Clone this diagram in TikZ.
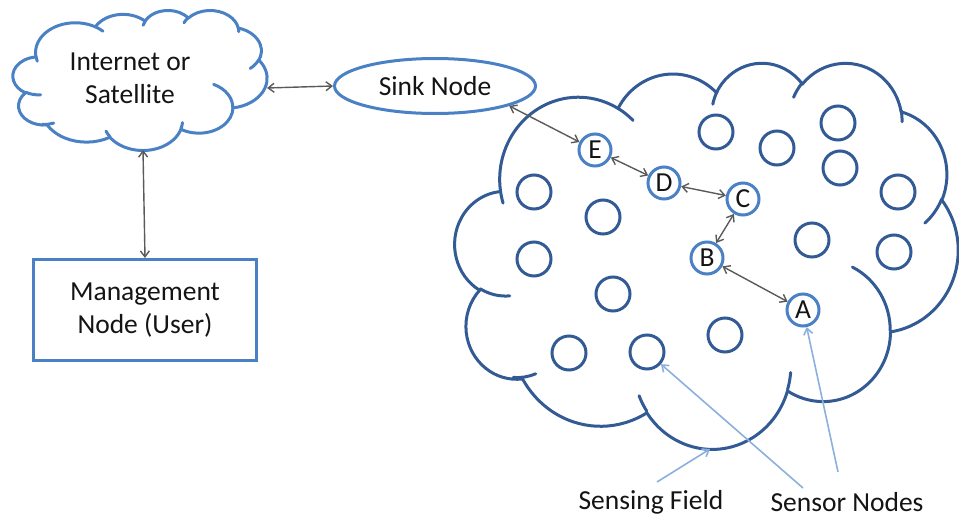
\documentclass[tikz,border=0pt]{standalone}
\usepackage{fontspec}
\setmainfont{Carlito}
\usetikzlibrary{arrows.meta,shapes.geometric}
\definecolor{lblue}{RGB}{74,128,196}
\definecolor{dblue}{RGB}{50,90,148}
\definecolor{cgray}{RGB}{90,90,90}
\definecolor{pblue}{RGB}{140,176,222}
\definecolor{txt}{RGB}{20,20,20}
\newcommand\oarcp[4]{%
  \pgfmathsetmacro\cldS{atan2((#1)*sin(#3),(#2)*cos(#3))}%
  \pgfmathsetmacro\cldE{atan2((#1)*sin((#3)+(#4)),(#2)*cos((#3)+(#4)))}%
  \pgfmathsetmacro\cldE{\cldE-360*round((\cldE-\cldS-(#4))/360)}%
  \pgfpatharcaxes{\cldS}{\cldE}{\pgfpointxy{#1}{0}}{\pgfpointxy{0}{#2}}}
\newcommand\officecloud[5]{%
 \begin{scope}[shift={(#1,#2)},xscale=#3/432,yscale=#4/432,#5]
  \pgfpathmoveto{\pgfpointxy{39.00}{143.70}}
  \oarcp{67.53}{91.90}{-190.48748}{123.78053}
  \oarcp{53.33}{72.67}{-144.10238}{89.94523}
  \oarcp{43.65}{59.45}{-145.80792}{99.72302}
  \oarcp{48.57}{65.95}{-130.98607}{117.24173}
  \oarcp{53.33}{72.73}{-78.70888}{109.02692}
  \oarcp{67.75}{92.20}{-46.26725}{130.269}
  \oarcp{57.85}{78.67}{0.62502}{114.03333}
  \oarcp{67.52}{92.15}{22.4516}{115.17255}
  \oarcp{77.20}{105.43}{66.24263}{75.71102}
  \oarcp{43.60}{59.18}{-274.94208}{146.73557}
  \oarcp{43.45}{59.45}{-246.8285}{152.51885}
  \pgfpathclose
  \pgfusepath{stroke}
  \pgfpathmoveto{\pgfpointxy{46.93}{261.77}}\oarcp{43.45}{59.45}{86.742}{26.4295}
  \pgfpathmoveto{\pgfpointxy{69.28}{348.99}}\oarcp{43.60}{59.18}{73.61047}{19.48003}
  \pgfpathmoveto{\pgfpointxy{164.78}{390.90}}\oarcp{67.52}{92.15}{137.62415}{14.06855}
  \pgfpathmoveto{\pgfpointxy{288.27}{347.51}}\oarcp{67.52}{92.15}{6.45327}{15.99835}
  \pgfpathmoveto{\pgfpointxy{341.29}{229.54}}\oarcp{57.85}{78.67}{-70.29235}{70.91737}
  \pgfpathmoveto{\pgfpointxy{417.98}{153.54}}\oarcp{53.33}{72.73}{30.31803}{27.7515}
  \pgfpathmoveto{\pgfpointxy{383.24}{54.26}}\oarcp{48.57}{65.95}{-13.74433}{14.8589}
  \pgfpathmoveto{\pgfpointxy{290.78}{39.52}}\oarcp{48.57}{65.95}{-149.18145}{18.19537}
  \pgfpathmoveto{\pgfpointxy{221.41}{47.20}}\oarcp{43.65}{59.45}{-163.49427}{17.68635}
  \pgfpathmoveto{\pgfpointxy{140.00}{51.92}}\oarcp{67.53}{91.90}{-66.70695}{12.31935}
  \pgfpathmoveto{\pgfpointxy{41.27}{157.89}}\oarcp{67.53}{91.90}{157.65435}{11.85817}
  \pgfusepath{stroke}
 \end{scope}}
\tikzset{
  vtip/.tip={Straight Barb[length=6pt,width=9pt]},
  conn/.style={cgray, line width=1.4pt, vtip-vtip},
  callout/.style={pblue, line width=1.6pt, -vtip},
  shapeline/.style={line width=3pt},
  lnode/.style={circle, draw=lblue, shapeline, minimum size=32pt, inner sep=0pt, text=txt},
  fnode/.style={circle, draw=dblue, shapeline, minimum size=34pt, inner sep=0pt},
  lbl/.style={text=txt, align=center},
}
\begin{document}
\begin{tikzpicture}[x=1pt,y=-1pt,font=\fontsize{27.5}{33}\selectfont]
\useasboundingbox (0,0) rectangle (959,517);
% clouds
\officecloud{13}{10}{254}{140}{lblue,line width=3pt,line cap=round,line join=round}
\officecloud{455}{62}{503}{386}{dblue,line width=3pt,line cap=round,line join=round}
\node[lbl] (inet) at (130,78) {Internet or\\Satellite};
\coordinate (inetR) at (267,88);
\coordinate (inetB) at (143,150);
\coordinate (fieldB) at (710,449);
% sink and management
\node[ellipse, draw=lblue, shapeline, minimum width=201pt, minimum height=55pt, inner sep=0pt, text=txt] (sink) at (435,86) {Sink Node};
\node[rectangle, draw=lblue, shapeline, minimum width=223pt, minimum height=101pt, lbl] (mgmt) at (145,310) {Management\\Node (User)};
% labelled sensor nodes
\node[lnode] (E) at (595,150) {E};
\node[lnode] (D) at (664,183) {D};
\node[lnode] (C) at (743,199) {C};
\node[lnode] (B) at (707,258) {B};
\node[lnode] (A) at (803,310) {A};
% other sensor nodes
\node[fnode] (f1) at (716,132) {};
\node[fnode] (f2) at (777,148) {};
\node[fnode] (f3) at (838,123) {};
\node[fnode] (f4) at (840,168) {};
\node[fnode] (f5) at (898,192) {};
\node[fnode] (f6) at (534,192) {};
\node[fnode] (f7) at (603,217) {};
\node[fnode] (f8) at (812,240) {};
\node[fnode] (f9) at (894,252) {};
\node[fnode] (f10) at (534,259) {};
\node[fnode] (f11) at (613,294) {};
\node[fnode] (f12) at (725,335) {};
\node[fnode] (f13) at (569,353) {};
\node[fnode] (f14) at (647,352) {};
% connectors
\draw[conn] (inetR) -- (sink.west);
\draw[conn] (inetB) -- (mgmt.north);
\draw[conn] (sink.-15) -- (E);
\draw[conn] (E) -- (D);
\draw[conn] (D) -- (C);
\draw[conn] (C) -- (B);
\draw[conn] (B) -- (A);
% labels and callouts
\node[lbl] (sf) at (651,502) {Sensing Field};
\node[lbl] (sn) at (847,502) {Sensor Nodes};
\coordinate (sfS) at (657,482);
\coordinate (snS1) at (803,488);
\coordinate (snS2) at (838,472);
\draw[callout] (sfS) -- (fieldB);
\draw[callout] (snS1) -- (f14);
\draw[callout] (snS2) -- (A);
\end{tikzpicture}
\end{document}
